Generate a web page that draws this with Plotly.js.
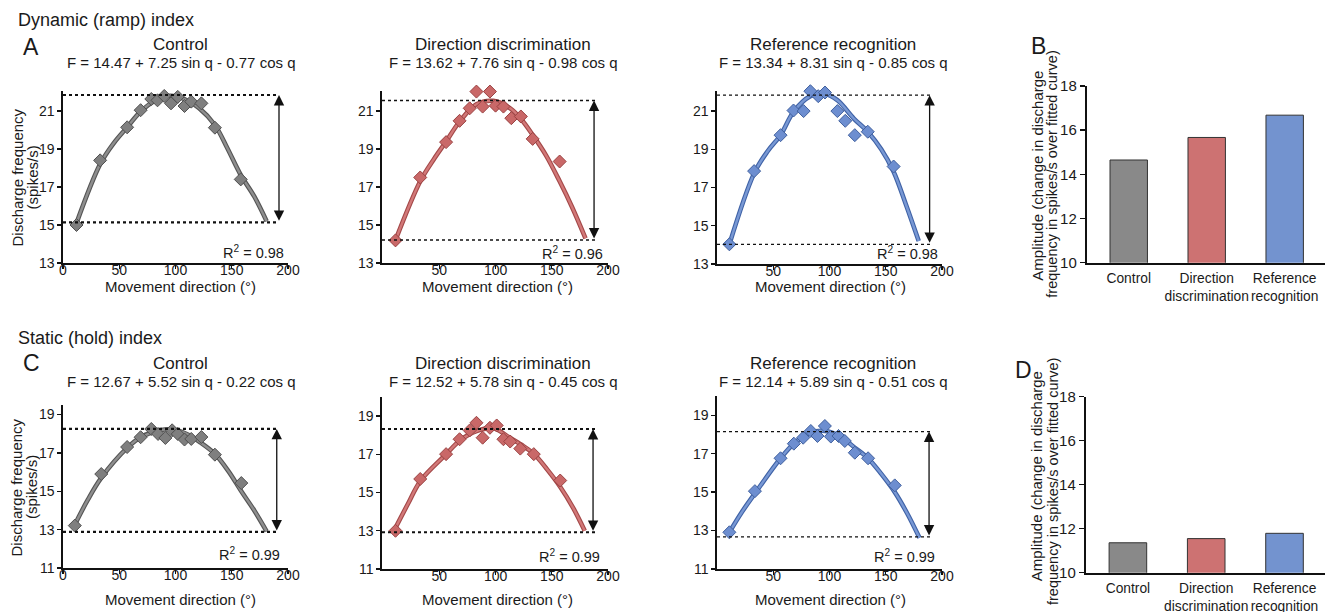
<!DOCTYPE html>
<html><head><meta charset="utf-8">
<script src="https://cdn.plot.ly/plotly-3.0.1.min.js"></script>
<style>html,body{margin:0;padding:0;background:#fff}#chart{width:1330px;height:612px}</style>
</head><body><div id="chart"></div>
<script>
// ---------------- DATA ----------------
const conditions = ['Control', 'Direction discrimination', 'Reference recognition'];

// Dynamic (ramp) index — observed points
const dynCtrlDir  = [12, 33, 57, 69, 78.5, 84, 90, 96, 102, 108, 114, 123, 135, 158];
const dynCtrlRate = [15.0, 18.4, 20.14, 21.04, 21.63, 21.56, 21.79, 21.4, 21.74, 21.26, 21.49, 21.4, 20.12, 17.4];
const dynDiscDir  = [11, 33, 56, 68, 77, 83, 88.5, 95, 100, 107, 114, 122.5, 133, 157];
const dynDiscRate = [14.19, 17.5, 19.36, 20.48, 21.14, 22.02, 21.23, 22.02, 21.28, 21.23, 20.62, 20.71, 19.53, 18.34];
const dynRecoDir  = [11, 33, 56.5, 68, 77, 83, 90, 96, 107, 114, 122.5, 134, 157];
const dynRecoRate = [14.03, 17.86, 19.74, 21.03, 21.0, 22.04, 21.78, 21.97, 21.0, 20.49, 19.74, 19.92, 18.1];

// Dynamic — fitted curves
const dynCtrlFitDir  = [12, 33, 45, 57, 69, 83, 95, 108, 121, 135, 146, 158, 170, 181];
const dynCtrlFitRate = [15.1, 18.2, 19.3, 20.14, 20.97, 21.58, 21.8, 21.62, 21.15, 20.26, 19.05, 17.63, 16.5, 15.2];
const dynDiscFitDir  = [11, 33, 45, 56, 68, 83, 98, 113, 123, 133, 145, 157, 168, 180];
const dynDiscFitRate = [14.2, 17.3, 18.45, 19.39, 20.44, 21.35, 21.53, 21.14, 20.55, 19.74, 18.65, 17.3, 15.95, 14.3];
const dynRecoFitDir  = [11, 33, 45, 56.5, 68, 83, 95, 107, 121.6, 134, 146, 157, 168, 179.3];
const dynRecoFitRate = [14.03, 17.74, 18.9, 19.74, 20.96, 21.78, 21.92, 21.57, 20.61, 19.92, 19.0, 17.83, 16.1, 14.2];

// Static (hold) index — observed points
const statCtrlDir  = [10.5, 34, 57, 69, 78.5, 84.5, 91, 97, 102, 108, 114, 123, 135, 158.5];
const statCtrlRate = [13.21, 15.9, 17.31, 17.82, 18.25, 17.99, 17.78, 18.18, 17.99, 17.7, 17.73, 17.83, 16.91, 15.43];
const statDiscDir  = [11, 33, 56, 68, 77, 83, 88.5, 95, 101, 107, 113, 122, 134, 157.5];
const statDiscRate = [13.0, 15.71, 17.01, 17.79, 18.25, 18.65, 17.87, 18.39, 18.51, 17.79, 17.67, 17.3, 17.01, 15.63];
const statRecoDir  = [11, 33.7, 56.5, 68.3, 76.6, 83.4, 89.3, 95.9, 101.2, 108, 113.6, 122.5, 134.3, 158];
const statRecoRate = [12.91, 15.05, 16.76, 17.52, 17.83, 18.18, 17.92, 18.44, 17.89, 17.92, 17.66, 17.05, 16.76, 15.35];

// Static — fitted curves
const statCtrlFitDir  = [10.5, 22, 34, 57, 69, 86, 98, 110, 122, 135, 147, 158.5, 170, 181];
const statCtrlFitRate = [13.26, 14.55, 15.7, 17.26, 17.82, 18.18, 18.22, 17.99, 17.55, 16.95, 16.05, 15.0, 14.0, 12.91];
const statDiscFitDir  = [10.7, 22, 33.4, 55.6, 67.8, 83.1, 98, 112.7, 123, 134.3, 146, 157.7, 169, 179.3];
const statDiscFitRate = [13.12, 14.4, 15.63, 16.98, 17.7, 18.22, 18.36, 17.87, 17.5, 17.01, 16.2, 15.28, 14.2, 13.0];
const statRecoFitDir  = [11, 22, 33.7, 56.5, 68.3, 83.4, 96, 109, 122.5, 134.3, 146, 158, 169, 180];
const statRecoFitRate = [12.91, 13.95, 14.93, 16.76, 17.52, 18.1, 18.18, 17.92, 17.31, 16.76, 15.95, 15.0, 13.9, 12.62];

// Fitted maximum / minimum (dotted reference lines) per condition
const fitMaxDyn  = [21.84, 21.55, 21.83];
const fitMinDyn  = [15.14, 14.21, 14.03];
const fitMaxStat = [18.25, 18.32, 18.15];
const fitMinStat = [12.88, 12.92, 12.67];

// Amplitudes (bar charts B and D)
const ampDyn  = [14.65, 15.67, 16.68];
const ampStat = [11.36, 11.55, 11.79];

// Text
const equationsDyn  = ['F = 14.47 + 7.25 sin q - 0.77 cos q', 'F = 13.62 + 7.76 sin q - 0.98 cos q', 'F = 13.34 + 8.31 sin q - 0.85 cos q'];
const equationsStat = ['F = 12.67 + 5.52 sin q - 0.22 cos q', 'F = 12.52 + 5.78 sin q - 0.45 cos q', 'F = 12.14 + 5.89 sin q - 0.51 cos q'];
const r2Dyn  = ['0.98', '0.96', '0.98'];
const r2Stat = ['0.99', '0.99', '0.99'];
const rateTitle = ['Discharge frequency', '(spikes/s)'];
const ampTitle  = ['Amplitude (change in discharge', 'frequency in spikes/s over fitted curve)'];

// Ticks
const dirTicks      = [0, 50, 100, 150, 200];
const rateTicksDyn  = [13, 15, 17, 19, 21];
const rateTicksStat = [11, 13, 15, 17, 19];
const ampTicks      = [10, 12, 14, 16, 18];

// ---------------- STYLE / LAYOUT ----------------
const W = 1330, H = 612;
const FONT = 'Liberation Sans, Arial, Helvetica, sans-serif';
const TXT = '#1a1a1a';
const markerFill = ['#7f7f7f', '#c96868', '#6d8ed0'];
const markerEdge = ['#505050', '#9a4242', '#40609e'];
const lineOuter  = ['#555555', '#a34848', '#3f62a6'];
const lineInner  = ['#8e8e8e', '#d27878', '#7898d4'];
const barFill    = ['#898989', '#cd7272', '#7393cf'];

const fx = p => p / W;
const fy = p => 1 - p / H;
const xid = n => n === 1 ? 'x' : 'x' + n;
const yid = n => n === 1 ? 'y' : 'y' + n;
const xkey = n => n === 1 ? 'xaxis' : 'xaxis' + n;
const ykey = n => n === 1 ? 'yaxis' : 'yaxis' + n;

const dynSeries = [
  [dynCtrlDir, dynCtrlRate, dynCtrlFitDir, dynCtrlFitRate],
  [dynDiscDir, dynDiscRate, dynDiscFitDir, dynDiscFitRate],
  [dynRecoDir, dynRecoRate, dynRecoFitDir, dynRecoFitRate]
];
const statSeries = [
  [statCtrlDir, statCtrlRate, statCtrlFitDir, statCtrlFitRate],
  [statDiscDir, statDiscRate, statDiscFitDir, statDiscFitRate],
  [statRecoDir, statRecoRate, statRecoFitDir, statRecoFitRate]
];

// panel geometry (pixels)
const panels = [
  {n:1, row:0, c:0, xPx:[63,288],  yPx:[91,263],  xr:[0,200],  yr:[13,22.05], dotEnd:190, arrX:192,   dotW:2.2, r2X:286, r2Y:252},
  {n:2, row:0, c:1, xPx:[382,608], yPx:[91,263],  xr:[-1,200], yr:[13,22.05], dotEnd:191, arrX:187.6, dotW:1.3, r2X:605, r2Y:253},
  {n:3, row:0, c:2, xPx:[717,942], yPx:[91,264],  xr:[0,200],  yr:[13,22.05], dotEnd:190, arrX:189,   dotW:1.3, r2X:940, r2Y:253},
  {n:5, row:1, c:0, xPx:[63,288],  yPx:[405,568], xr:[0,200],  yr:[11,19.5],  dotEnd:191, arrX:190,   dotW:2.2, r2X:282, r2Y:554},
  {n:6, row:1, c:1, xPx:[382,608], yPx:[397,569], xr:[-1,200], yr:[11,20],    dotEnd:191, arrX:186.7, dotW:2.0, r2X:602, r2Y:556},
  {n:7, row:1, c:2, xPx:[717,942], yPx:[396,569], xr:[0,200],  yr:[11,20],    dotEnd:192, arrX:188.5, dotW:1.3, r2X:937, r2Y:556}
];

const traces = [];
const layout = {
  width: W, height: H, autosize: false,
  margin: {l:0, r:0, t:0, b:0, pad:0},
  paper_bgcolor: '#fff', plot_bgcolor: 'rgba(0,0,0,0)',
  showlegend: false,
  font: {family: FONT, color: TXT, size: 14},
  shapes: [], annotations: []
};

function axisBase() {
  return {showline:true, linecolor:'#111', linewidth:1.6, showgrid:false, zeroline:false,
          ticks:'outside', ticklen:4, tickwidth:1.4, tickcolor:'#111',
          tickfont:{family:FONT, size:14, color:TXT}, fixedrange:true};
}

panels.forEach(p => {
  const s = (p.row === 0 ? dynSeries : statSeries)[p.c];
  const xa = xid(p.n), ya = yid(p.n);
  layout[xkey(p.n)] = Object.assign(axisBase(), {
    domain:[fx(p.xPx[0]), fx(p.xPx[1])], range:p.xr, anchor:ya, tickangle:0,
    tickvals: p.c === 0 ? dirTicks : dirTicks.slice(1), ticklabelstandoff:-10
  });
  layout[ykey(p.n)] = Object.assign(axisBase(), {
    domain:[fy(p.yPx[1]), fy(p.yPx[0])], range:p.yr, anchor:xa,
    tickvals: p.row === 0 ? rateTicksDyn : rateTicksStat
  });
  // fitted curve (outlined)
  traces.push({type:'scatter', mode:'lines', x:s[2], y:s[3], xaxis:xa, yaxis:ya,
    line:{color:lineOuter[p.c], width:4.6, shape:'spline', smoothing:1}, hoverinfo:'skip'});
  traces.push({type:'scatter', mode:'lines', x:s[2], y:s[3], xaxis:xa, yaxis:ya,
    line:{color:lineInner[p.c], width:2.4, shape:'spline', smoothing:1}, hoverinfo:'skip'});
  // observations
  traces.push({type:'scatter', mode:'markers', x:s[0], y:s[1], xaxis:xa, yaxis:ya, cliponaxis:false,
    marker:{symbol:'diamond', size:10, color:markerFill[p.c], line:{color:markerEdge[p.c], width:1}}});
  // dotted max/min lines
  const mx = (p.row === 0 ? fitMaxDyn : fitMaxStat)[p.c];
  const mn = (p.row === 0 ? fitMinDyn : fitMinStat)[p.c];
  [mx, mn].forEach(v => layout.shapes.push({type:'line', xref:xa, yref:ya, x0:p.xr[0], x1:p.dotEnd, y0:v, y1:v,
    line:{color:'#111', width:p.dotW, dash:'dot'}}));
  // double arrow
  layout.annotations.push({xref:xa, yref:ya, axref:xa, ayref:ya, x:p.arrX, y:mx, ax:p.arrX, ay:mn,
    text:'', showarrow:true, arrowhead:2, arrowside:'end+start', arrowsize:1.6, arrowwidth:1.3, arrowcolor:'#111'});
  // R^2
  layout.annotations.push({xref:'paper', yref:'paper', x:fx(p.r2X), y:fy(p.r2Y), xanchor:'right', yanchor:'middle',
    text:'R<sup>2</sup> = ' + (p.row === 0 ? r2Dyn : r2Stat)[p.c], showarrow:false, font:{size:14.5, color:TXT}});
});

// bar charts
const barPanels = [
  {n:4, xPx:[1087,1325], yPx:[86,262.7], vals:ampDyn},
  {n:8, xPx:[1086,1325], yPx:[396.7,572.7], vals:ampStat}
];
const barLabels = conditions.map(c => c.replace(' ', '<br>'));
barPanels.forEach(b => {
  const xa = xid(b.n), ya = yid(b.n);
  layout[xkey(b.n)] = Object.assign(axisBase(), {
    domain:[fx(b.xPx[0]), fx(b.xPx[1])], range:[-0.535, 2.517], anchor:ya, type:'linear',
    tickvals:[0,1,2], ticktext:barLabels, ticks:'', linewidth:2.2, tickangle:0, ticklabelstandoff:2,
    tickfont:{family:FONT, size:13.8, color:TXT}
  });
  layout[ykey(b.n)] = Object.assign(axisBase(), {
    domain:[fy(b.yPx[1]), fy(b.yPx[0])], range:[10,18], anchor:xa, tickvals:ampTicks, linewidth:2.2, ticklen:5,
    tickfont:{family:FONT, size:15, color:TXT}
  });
  traces.push({type:'bar', x:[0,1,2], y:b.vals, base:0, xaxis:xa, yaxis:ya, width:0.48,
    marker:{color:barFill, line:{color:'#333', width:1}}});
});

// text annotations (paper, pixel-based)
function txt(text, xp, yp, size, opts) {
  layout.annotations.push(Object.assign({xref:'paper', yref:'paper', x:fx(xp), y:fy(yp), text:text,
    showarrow:false, xanchor:'center', yanchor:'middle', font:{family:FONT, size:size, color:TXT}}, opts || {}));
}
txt('Dynamic (ramp) index', 16, 20, 18, {xanchor:'left'});
txt('Static (hold) index', 16, 338, 18, {xanchor:'left'});
txt('A', 31, 47, 23); txt('B', 1038, 46, 23); txt('C', 31, 363, 23); txt('D', 1023, 370, 23);

const titleX = [181, 502.5, 832.5];
const xTitleX = [180.7, 497.5, 830];
conditions.forEach((c, i) => {
  txt(c, titleX[i], 44.5, 17);
  txt(equationsDyn[i], titleX[i], 63, 15);
  txt(c, titleX[i], 363, 17);
  txt(equationsStat[i], titleX[i], 381.5, 15);
  txt('Movement direction (°)', xTitleX[i], 286, 15);
  txt('Movement direction (°)', xTitleX[i], 599, 15);
});
// rotated axis titles, one line each
txt(rateTitle[0], 16.5, 178, 15, {textangle:-90});
txt(rateTitle[1], 31.5, 178, 15, {textangle:-90});
txt(rateTitle[0], 16, 487.5, 15, {textangle:-90});
txt(rateTitle[1], 31.5, 487.5, 15, {textangle:-90});
txt(ampTitle[0], 1036.7, 176, 15, {textangle:-90});
txt(ampTitle[1], 1051.7, 174, 14.5, {textangle:-90});
txt(ampTitle[0], 1036.7, 476.5, 15, {textangle:-90});
txt(ampTitle[1], 1053, 482, 14.5, {textangle:-90});

Plotly.newPlot('chart', traces, layout, {displayModeBar:false, staticPlot:true});
</script>
</body></html>
